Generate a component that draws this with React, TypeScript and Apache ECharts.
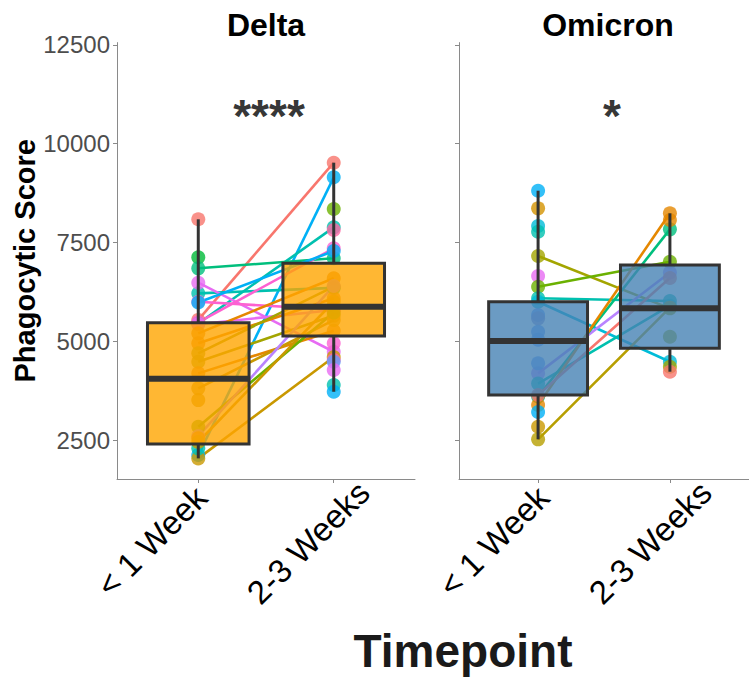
import React, { useEffect, useRef } from 'react';
import * as echarts from 'echarts';

const timepoints = ['< 1 Week', '2-3 Weeks'];
const variants = ['Delta', 'Omicron'];
const yTicks = [2500, 5000, 7500, 10000, 12500];
const xTicks = [1, 2];

// Delta: paired subject values (null = no measurement at that timepoint)
const deltaWeek1 = [8087, 5540, 2119, null, 5450, null, 7125, 6846, 6213, 6482, 5480, 5430, 6000, 5980, 5200, 4947, 4694, 4481, 4187, 3808, 3511, 2836, 2600, 2035, 2289, 2542, 2450, null, null, null, null, null, null];
const deltaWeek3 = [null, 9520, 9150, 8348, 7884, 7816, null, 7100, 6350, 4734, 7352, 5790, 5800, 7284, 6593, 6087, 6381, 5650, 5266, 5537, null, 5730, 6400, 4600, null, null, 6000, 4947, 4524, 4482, 4271, 3891, 3722];
const deltaColors = ['#F8766D', '#F8766D', '#00B0F6', '#6BB100', '#00C0AF', '#FF67A4', '#00BA38', '#00BF7D', '#00C0AF', '#E76BF3', '#FD61D1', '#E76BF3', '#FD61D1', '#00B0F6', '#E58700', '#E58700', '#A3A500', '#A3A500', '#E58700', '#C99800', '#C99800', '#6BB100', '#B983FF', '#C99800', '#00C0AF', '#E58700', '#C99800', '#FD61D1', '#FF67A4', '#619CFF', '#E76BF3', '#00C0AF', '#00B0F6'];

// Omicron: paired subject values
const omicronWeek1 = [8811, 8365, 7917, 7773, 7158, 6651, 6381, 6087, 6000, 5664, 4187, 5241, 5040, 4440, 3930, 3600, 3385, 3210, 3640, 2836, 2517, null, null, null, null, 5580];
const omicronWeek3 = [null, null, null, null, 5833, null, 7014, 6020, 4482, null, 6740, null, null, null, 5900, 7833, 8238, null, 6600, null, 5850, 8070, 5114, 4356, 4229, null];
const omicronColors = ['#00B0F6', '#D39200', '#00BCD8', '#00C0AF', '#A3A500', '#E76BF3', '#6BB100', '#00C0AF', '#00BCD8', '#619CFF', '#B983FF', '#619CFF', '#619CFF', '#619CFF', '#00C0AF', '#00BF7D', '#E58700', '#00B0F6', '#F8766D', '#C99800', '#B79F00', '#E58700', '#A3A500', '#A3A500', '#F8766D', '#8F8FCF'];

// Box statistics: [lower whisker, Q1, median, Q3, upper whisker]
const deltaBoxWeek1 = [2035, 2400, 4050, 5470, 8087];
const deltaBoxWeek3 = [3722, 5130, 5874, 6973, 9520];
const omicronBoxWeek1 = [2517, 3638, 5005, 6001, 8811];
const omicronBoxWeek3 = [4229, 4820, 5833, 6930, 8238];

const sigLabels = ['****', '*'];
const sigY = [10700, 10700];

const boxFills = ['rgba(255,165,0,0.8)', 'rgba(70,130,180,0.8)'];

const panels = [
  { w1: deltaWeek1, w3: deltaWeek3, colors: deltaColors, boxes: [deltaBoxWeek1, deltaBoxWeek3] },
  { w1: omicronWeek1, w3: omicronWeek3, colors: omicronColors, boxes: [omicronBoxWeek1, omicronBoxWeek3] },
];

const FONT = '"Liberation Sans", Arial, sans-serif';
const AXIS_GREY = '#8A8A8A';
const PANEL_LEFT = [117, 459];
const PANEL_WIDTH = 298;
const PANEL_TOP = 42.6;
const PANEL_HEIGHT = 436.4;
const X_MIN = 0.4;
const X_MAX = 2.6;
const Y_MIN = 1513;
const Y_MAX = 12560;
const BOX_HALF = 0.375;
const LABEL_SHIFT = [3, 30];
const LABEL_Y = [492, 487];
const SIG_OFFSET = [3, 8];

export default function App() {
  const ref = useRef<HTMLDivElement>(null);

  useEffect(() => {
    if (!ref.current) return;
    const chart = echarts.init(ref.current, undefined, { renderer: 'svg' });

    const grid = PANEL_LEFT.map((l) => ({ left: l, top: PANEL_TOP, width: PANEL_WIDTH, height: PANEL_HEIGHT, containLabel: false }));

    const xAxis = panels.map((_, p) => ({
      type: 'value',
      gridIndex: p,
      min: X_MIN,
      max: X_MAX,
      splitLine: { show: false },
      axisLine: { show: true, lineStyle: { color: AXIS_GREY, width: 1 } },
      axisTick: { show: true, customValues: xTicks, length: 4, lineStyle: { color: AXIS_GREY } },
      axisLabel: { show: false },
    }));

    const yAxis = panels.map((_, p) => ({
      type: 'value',
      gridIndex: p,
      min: Y_MIN,
      max: Y_MAX,
      splitLine: { show: false },
      axisLine: { show: true, lineStyle: { color: AXIS_GREY, width: 1 } },
      axisTick: { show: true, customValues: yTicks, length: 4, lineStyle: { color: AXIS_GREY } },
      axisLabel: {
        show: p === 0,
        customValues: yTicks,
        margin: 7,
        fontSize: 24,
        color: '#4D4D4D',
        fontFamily: FONT,
        formatter: (v: number) => String(v),
      },
      name: p === 0 ? 'Phagocytic Score' : '',
      nameLocation: 'middle',
      nameGap: 78,
      nameTextStyle: { fontSize: 29, fontWeight: 'bold', color: '#000', fontFamily: FONT },
    }));

    const series: any[] = [];
    panels.forEach((panel, p) => {
      panel.w1.forEach((a, i) => {
        const b = panel.w3[i];
        if (a == null || b == null) return;
        series.push({
          type: 'line',
          xAxisIndex: p,
          yAxisIndex: p,
          data: [[1, a], [2, b]],
          symbol: 'none',
          silent: true,
          z: 2,
          lineStyle: { color: panel.colors[i], width: 2.6 },
        });
      });
      const pts: any[] = [];
      panel.w1.forEach((a, i) => {
        if (a != null) pts.push({ value: [1, a], itemStyle: { color: panel.colors[i] } });
      });
      panel.w3.forEach((b, i) => {
        if (b != null) pts.push({ value: [2, b], itemStyle: { color: panel.colors[i] } });
      });
      series.push({
        type: 'scatter',
        xAxisIndex: p,
        yAxisIndex: p,
        data: pts,
        symbolSize: 14,
        z: 3,
        silent: true,
      });
      series.push({
        type: 'custom',
        xAxisIndex: p,
        yAxisIndex: p,
        z: 10,
        silent: true,
        data: panel.boxes.map((b, i) => [i + 1, ...b]),
        encode: { x: 0, y: [1, 2, 3, 4, 5] },
        renderItem: (_params: any, api: any) => {
          const x = api.value(0);
          const mn = api.value(1), q1 = api.value(2), md = api.value(3), q3 = api.value(4), mx = api.value(5);
          const pMin = api.coord([x, mn]);
          const pQ1 = api.coord([x, q1]);
          const pMd = api.coord([x, md]);
          const pQ3 = api.coord([x, q3]);
          const pMax = api.coord([x, mx]);
          const xl = api.coord([x - BOX_HALF, md])[0];
          const xr = api.coord([x + BOX_HALF, md])[0];
          const dark = '#333333';
          return {
            type: 'group',
            children: [
              { type: 'line', shape: { x1: pMax[0], y1: pMax[1], x2: pQ3[0], y2: pQ3[1] }, style: { stroke: dark, lineWidth: 3 } },
              { type: 'line', shape: { x1: pQ1[0], y1: pQ1[1], x2: pMin[0], y2: pMin[1] }, style: { stroke: dark, lineWidth: 3 } },
              { type: 'rect', shape: { x: xl, y: pQ3[1], width: xr - xl, height: pQ1[1] - pQ3[1] }, style: { fill: boxFills[p], stroke: dark, lineWidth: 3 } },
              { type: 'line', shape: { x1: xl, y1: pMd[1], x2: xr, y2: pMd[1] }, style: { stroke: dark, lineWidth: 6 } },
            ],
          };
        },
      });
      series.push({
        type: 'scatter',
        xAxisIndex: p,
        yAxisIndex: p,
        data: [[1.5, sigY[p]]],
        symbolSize: 0,
        silent: true,
        z: 11,
        label: {
          show: true,
          position: 'inside',
          offset: [SIG_OFFSET[p], 0],
          formatter: () => sigLabels[p],
          fontSize: 46,
          fontWeight: 'bold',
          color: '#000',
          fontFamily: FONT,
        },
      });
    });

    const tickLabels: any[] = [];
    PANEL_LEFT.forEach((l) => {
      xTicks.forEach((t, k) => {
        const px = l + ((t - X_MIN) / (X_MAX - X_MIN)) * PANEL_WIDTH + LABEL_SHIFT[k];
        tickLabels.push({
          type: 'text',
          x: px,
          y: LABEL_Y[k],
          rotation: Math.PI / 4,
          style: { text: timepoints[k], fontSize: 33, fill: '#000', fontFamily: FONT, align: 'right', verticalAlign: 'middle' },
        });
      });
    });

    chart.setOption({
      animation: false,
      backgroundColor: '#fff',
      grid,
      xAxis,
      yAxis,
      series,
      graphic: [
        ...variants.map((v, p) => ({
          type: 'text',
          x: PANEL_LEFT[p] + PANEL_WIDTH / 2,
          y: 25,
          style: { text: v, fontSize: 32, fontWeight: 'bold', fill: '#000', fontFamily: FONT, align: 'center', verticalAlign: 'middle' },
        })),
        ...tickLabels,
        {
          type: 'text',
          x: 463,
          y: 651,
          style: { text: 'Timepoint', fontSize: 46, fontWeight: 'bold', fill: '#1a1a1a', fontFamily: FONT, align: 'center', verticalAlign: 'middle' },
        },
      ],
    });

    return () => chart.dispose();
  }, []);

  return <div ref={ref} style={{ position: 'fixed', left: 0, top: 0, width: 749, height: 680 }} />;
}
